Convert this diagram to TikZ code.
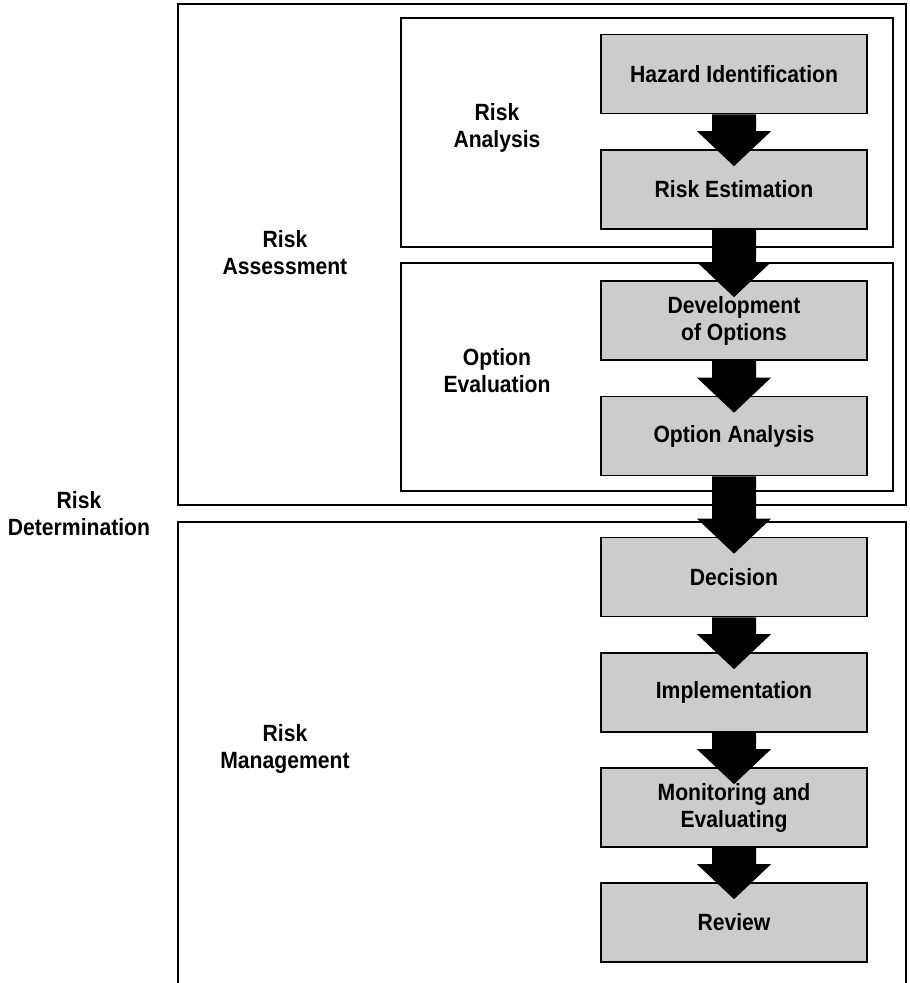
\documentclass[tikz,border=0pt]{standalone}
\usepackage{fontspec}
\setmainfont{Liberation Sans}[FakeStretch=0.9]
\usepackage{tikz}
\usetikzlibrary{calc}
\definecolor{STEP-GRAY}{gray}{0.8}

\tikzset{
	stepbox/.style={draw,fill=STEP-GRAY,line width=1.6pt,minimum width=266pt,minimum height=79pt,inner sep=0pt,align=center},
	grouplabel/.style={align=center},
	groupframe/.style={draw,line width=1.6pt}
}

\newcommand{\flowarrow}[2]{%
	\fill let \p1=(#1.south), \p2=(#2.north) in
		(\x1-22pt,\y1) -- (\x1+22pt,\y1) -- (\x1+22pt,\y2+18pt) -- (\x1+37pt,\y2+18pt)
		-- (\x1,\y2-17pt) -- (\x1-37pt,\y2+18pt) -- (\x1-22pt,\y2+18pt) -- cycle;}

\begin{document}
\begin{tikzpicture}[x=1pt,y=-1pt,every node/.style={font=\bfseries\fontsize{23.5}{27}\selectfont}]
			\useasboundingbox (0,0) rectangle (910,983);

			% draw frames
			\draw[groupframe] (178,4) rectangle (906,505);
			\draw[groupframe] (401,18) rectangle (893,247);
			\draw[groupframe] (401,263) rectangle (893,491);
			\draw[groupframe] (178,522) rectangle (906,984);

			% draw labels
			\node (L_assess) at (285,253) [grouplabel] {Risk\\Assessment};
			\node (L_analysis) at (497,128) [grouplabel] {Risk\\Analysis};
			\node (L_option) at (497,371) [grouplabel] {Option\\Evaluation};
			\node (L_determ) at (79,514) [grouplabel] {Risk\\Determination};
			\node (L_manage) at (285,749) [grouplabel] {Risk\\Management};

			% draw nodes
			\node (S_hazard) at (734,74) [stepbox] {Hazard Identification};
			\node (S_estim) at (734,189.5) [stepbox] {Risk Estimation};
			\node (S_develop) at (734,320.5) [stepbox] {Development\\of Options};
			\node (S_optan) at (734,436) [stepbox] {Option Analysis};
			\node (S_decide) at (734,577) [stepbox] {Decision};
			\node (S_impl) at (734,692.5) [stepbox] {Implementation};
			\node (S_monitor) at (734,807.5) [stepbox] {Monitoring and\\Evaluating};
			\node (S_review) at (734,922.5) [stepbox] {Review};

			% draw arrows
			\flowarrow{S_hazard}{S_estim}
			\flowarrow{S_estim}{S_develop}
			\flowarrow{S_develop}{S_optan}
			\flowarrow{S_optan}{S_decide}
			\flowarrow{S_decide}{S_impl}
			\flowarrow{S_impl}{S_monitor}
			\flowarrow{S_monitor}{S_review}
		\end{tikzpicture}
\end{document}
